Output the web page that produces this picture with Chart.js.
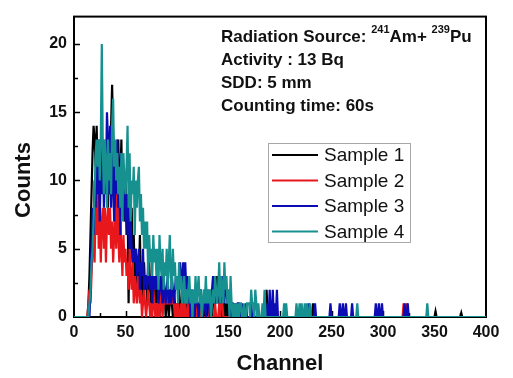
<!DOCTYPE html>
<html>
<head>
<meta charset="utf-8">
<script src="https://cdn.jsdelivr.net/npm/chart.js@4/dist/chart.umd.min.js"></script>
<style>
  html, body { margin: 0; padding: 0; background: #fff; }
  #wrap { width: 513px; height: 378px; }
</style>
</head>
<body>
<div id="wrap"><canvas id="c" width="513" height="378"></canvas></div>
<script>
// ---- data (counts per channel) ----
const headStart = 10; // first channel of the head arrays
const seriesLabels = ['Sample 1', 'Sample 2', 'Sample 3', 'Sample 4'];
const xTickValues = [0, 50, 100, 150, 200, 250, 300, 350, 400];
const yTickValues = [0, 5, 10, 15, 20];

// Sample 1, channels 10..179
const s1Head = [
  0,0,0,0, 1,3,6,9,12,14,
  13,11,14,10,13,9,12,13,10,11,
  9,13,11,8,12,10,14,17,13,9,
  12,8,11,13,9,10,13,8,11,7,
  10,6,9,1,7,5,8,4,6,3,
  5,2,4,3,6,2,3,1,4,2,
  3,1,2,4,2,1,3,2,1,2,
  1,3,2,0,2,1,3,1,2,0,
  1,2,0,1,2,1,0,2,1,0,
  1,0,2,1,0,1,2,0,1,0,
  1,0,0,1,2,0,1,0,0,1,
  0,1,0,2,1,0,0,1,2,0,
  1,0,2,1,0,1,2,1,3,2,
  3,1,2,0,1,2,0,1,0,1,
  0,1,0,0,1,0,0,0,1,0,
  0,0,1,0,0,0,0,0,0,0,
  0,0,0,0,0,0,0,0,0,0
];
const s1Tail = [[187,2],[189,1],[232,1],[351,0.4],[376,0.3]];

// Sample 2, channels 10..179
const s2Head = [
  0,0,0,0, 1,2,1,3,5,7,
  4,8,6,12,5,8,4,7,8,5,
  8,4,7,8,6,8,5,7,4,6,
  8,5,12,6,4,7,5,3,6,4,
  5,3,4,2,5,3,2,4,1,3,
  2,1,3,2,1,2,0,1,2,1,
  0,1,2,1,0,1,0,2,1,0,
  1,0,1,0,2,1,0,1,1,2,
  1,1,2,1,1,2,1,1,0,1,
  0,1,0,0,1,0,2,0,1,0,
  0,1,0,0,0,1,0,0,0,0,
  1,0,0,0,1,0,0,0,0,0,
  0,0,1,0,0,0,0,1,0,0,
  0,1,0,2,1,0,0,0,0,0,
  0,0,0,0,0,0,0,0,0,0,
  0,0,0,0,0,0,0,0,0,0,
  0,0,0,0,0,0,0,0,0,0
];
const s2Tail = [[320,1],[323,1]];

// Sample 3, channels 10..179
const s3Head = [
  0,0,0,0, 0,0,2,5,8,6,
  10,8,13,9,12,7,11,9,13,8,
  12,10,15,13,9,14,8,12,10,7,
  11,9,13,8,10,6,12,9,8,10,
  7,9,6,8,5,7,5,4,5,4,
  5,3,4,5,2,4,3,5,2,3,
  3,2,4,3,2,3,1,3,2,3,
  2,3,1,2,3,2,1,3,2,1,
  2,3,1,2,1,3,2,1,2,3,
  2,3,2,4,3,2,4,3,4,2,
  3,1,2,0,1,2,1,0,2,1,
  1,0,1,2,1,0,1,2,0,1,
  2,1,0,1,2,3,2,1,2,1,
  3,2,1,2,3,2,1,3,2,1,
  2,1,0,1,1,0,1,0,0,1,
  1,0,0,1,0,0,0,1,0,0,
  0,0,1,0,0,0,0,0,0,0
];
const s3Tail = [[188,1],[190,2],[193,2],[195,1],[197,2],[228,1],[234,1],[249,1],
  [258,1],[261,1],[264,1],[270,1],[293,1],[296,1],[299,1],[321,1],[324,1]];

// Sample 4, channels 10..179
const s4Head = [
  0,0,0,0, 0,1,2,4,5,7,
  9,12,13,11,13,10,13,20,12,9,
  13,11,8,13,10,12,9,14,16,11,
  13,10,12,9,11,8,12,7,12,10,
  9,11,14,8,12,7,10,9,11,6,
  10,8,10,11,7,9,6,8,5,7,
  5,7,3,6,4,5,3,6,4,5,
  3,5,2,6,4,3,5,2,4,3,
  5,2,4,6,3,2,5,3,4,2,
  3,1,4,2,3,1,2,3,1,2,
  1,2,3,1,2,0,2,1,3,1,
  2,3,1,2,0,1,2,1,3,1,
  2,1,2,0,1,2,1,3,2,1,
  2,4,1,3,2,1,4,2,3,1,
  2,0,3,1,0,1,0,1,0,1,
  0,1,1,0,0,1,0,0,1,1,
  1,0,2,1,1,0,2,1,0,1
];
const s4Tail = [[183,1],[185,2],[204,1],[206,1],[216,1],[219,1],[221,1],[224,1],
  [226,1],[229,1],[275,1],[343,1]];

const seriesColors = ['#000000', '#e8171c', '#0c0cb4', '#16918f'];
const seriesHeads = [s1Head, s2Head, s3Head, s4Head];
const seriesTails = [s1Tail, s2Tail, s3Tail, s4Tail];

// ---- build point lists for the library ----
function buildPoints(head, tail) {
  const tailMap = new Map(tail);
  const pts = [];
  for (let ch = 0; ch <= 400; ch++) {
    let v = 0;
    const hi = ch - headStart;
    if (hi >= 0 && hi < head.length) v = head[hi];
    else if (tailMap.has(ch)) v = tailMap.get(ch);
    pts.push({ x: ch, y: v });
  }
  return pts;
}

const datasets = seriesLabels.map((lab, i) => ({
  label: lab,
  data: buildPoints(seriesHeads[i], seriesTails[i]),
  borderColor: seriesColors[i],
  backgroundColor: seriesColors[i],
  borderWidth: 2.2,
  pointRadius: 0,
  tension: 0,
  fill: false,
  order: 4 - i   // Sample 4 drawn on top
}));

const FONT = "Arial, 'Liberation Sans', sans-serif";

// frame + inward ticks (drawn before datasets)
const framePlugin = {
  id: 'frame',
  beforeDatasetsDraw(chart) {
    const { ctx, chartArea: a, scales } = chart;
    ctx.save();
    ctx.strokeStyle = '#000';
    ctx.lineWidth = 2;
    ctx.strokeRect(a.left, a.top, a.right - a.left, a.bottom - a.top);
    ctx.lineWidth = 1.5;
    ctx.beginPath();
    for (let v = 0; v <= 400; v += 25) {
      const x = Math.round(scales.x.getPixelForValue(v)) + 0.5;
      const len = (v % 50 === 0) ? 6 : 4;
      if (v === 0 || v === 400) continue;
      ctx.moveTo(x, a.bottom);
      ctx.lineTo(x, a.bottom - len);
    }
    for (let v = 2.5; v <= 22; v += 2.5) {
      const y = Math.round(scales.y.getPixelForValue(v)) + 0.5;
      const len = (v % 5 === 0) ? 6 : 4;
      ctx.moveTo(a.left, y);
      ctx.lineTo(a.left + len, y);
    }
    ctx.stroke();
    ctx.restore();
  }
};

// annotation + legend + y title
const overlayPlugin = {
  id: 'overlay',
  afterDraw(chart) {
    const { ctx } = chart;
    ctx.save();
    ctx.fillStyle = '#111';
    ctx.textBaseline = 'alphabetic';
    ctx.textAlign = 'left';
    // annotation text
    const big = 'bold 17px ' + FONT;
    const sup = 'bold 11px ' + FONT;
    let x = 221, y = 41.5;
    ctx.font = big; ctx.fillText('Radiation Source: ', x, y); x += ctx.measureText('Radiation Source: ').width;
    ctx.font = sup; ctx.fillText('241', x, y - 9); x += ctx.measureText('241').width;
    ctx.font = big; ctx.fillText('Am+ ', x, y); x += ctx.measureText('Am+ ').width;
    ctx.font = sup; ctx.fillText('239', x, y - 9); x += ctx.measureText('239').width;
    ctx.font = big; ctx.fillText('Pu', x, y);
    ctx.fillText('Activity : 13 Bq', 221, 65);
    ctx.fillText('SDD: 5 mm', 221, 88);
    ctx.fillText('Counting time: 60s', 221, 110.5);

    // legend
    ctx.fillStyle = '#fff';
    ctx.fillRect(268, 143, 143, 100);
    ctx.strokeStyle = '#a8a8a8';
    ctx.lineWidth = 1;
    ctx.strokeRect(268.5, 143.5, 142, 99);
    ctx.font = '19px ' + FONT;
    ctx.textBaseline = 'middle';
    chart.data.datasets.forEach((ds, i) => {
      const cy = 155 + i * 25.5;
      ctx.strokeStyle = ds.borderColor;
      ctx.lineWidth = 2;
      ctx.beginPath();
      ctx.moveTo(272, cy); ctx.lineTo(318, cy);
      ctx.stroke();
      ctx.fillStyle = '#111';
      ctx.fillText(ds.label, 324, cy + 1);
    });

    // y-axis title
    ctx.translate(24, 180);
    ctx.rotate(-Math.PI / 2);
    ctx.font = 'bold 22px ' + FONT;
    ctx.textAlign = 'center';
    ctx.textBaseline = 'middle';
    ctx.fillStyle = '#111';
    ctx.fillText('Counts', 0, 0);
    ctx.restore();
  }
};

new Chart(document.getElementById('c'), {
  type: 'line',
  data: { datasets },
  options: {
    responsive: false,
    animation: false,
    devicePixelRatio: 1,
    parsing: true,
    layout: { padding: { top: 10, right: 27, left: 0, bottom: 0 } },
    plugins: { legend: { display: false }, tooltip: { enabled: false } },
    scales: {
      x: {
        type: 'linear',
        min: 0, max: 400,
        grid: { display: false, drawTicks: false },
        border: { display: false },
        afterBuildTicks(scale) { scale.ticks = xTickValues.map(v => ({ value: v })); },
        ticks: { autoSkip: false, maxRotation: 0, padding: 6, color: '#111',
                 font: { family: FONT, size: 16, weight: 'bold' } },
        title: { display: true, text: 'Channel', color: '#111', padding: { top: 0, bottom: 1 },
                 font: { family: FONT, size: 22, weight: 'bold' } },
        afterFit(scale) { scale.height = 61; }
      },
      y: {
        type: 'linear',
        min: 0, max: 22,
        grid: { display: false, drawTicks: false },
        border: { display: false },
        afterBuildTicks(scale) { scale.ticks = yTickValues.map(v => ({ value: v })); },
        ticks: { padding: 7, color: '#111',
                 font: { family: FONT, size: 16, weight: 'bold' } },
        afterFit(scale) { scale.width = 74; }
      }
    }
  },
  plugins: [framePlugin, overlayPlugin]
});
</script>
</body>
</html>
